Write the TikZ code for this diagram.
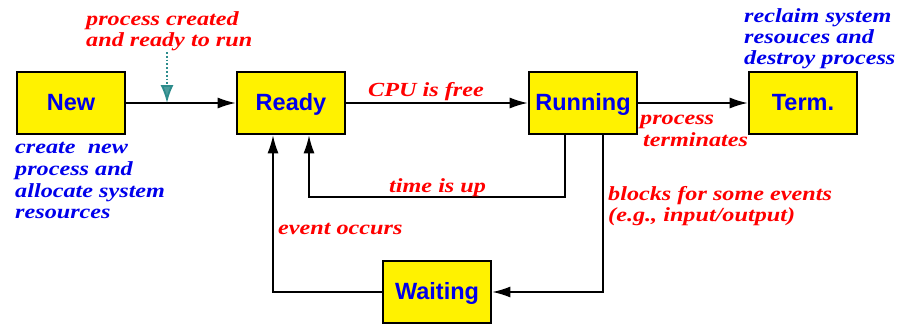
\documentclass[tikz,border=0pt]{standalone}
\usepackage{fontspec}
\setmainfont{Liberation Serif}
\setsansfont{Liberation Sans}
\newfontfamily\labfont[FakeStretch=1.21]{Liberation Serif}
\usetikzlibrary{arrows.meta}
\definecolor{tblue}{RGB}{0,0,235}
\definecolor{tred}{RGB}{255,0,0}
\definecolor{tteal}{RGB}{45,140,140}
\begin{document}
\begin{tikzpicture}[x=1pt,y=-1pt,
  state/.style={draw=black,line width=2.6pt,fill=yellow,minimum width=108pt,minimum height=62pt,inner sep=0pt,
    font=\sffamily\bfseries\fontsize{23.5}{23.5}\selectfont,text=tblue,text height=14pt,text depth=0pt},
  rlab/.style={font=\labfont\bfseries\itshape\fontsize{20}{21}\selectfont,text=tred,inner sep=0pt,anchor=base west},
  blab/.style={font=\labfont\bfseries\itshape\fontsize{20}{21}\selectfont,text=tblue,inner sep=0pt,anchor=base west},
  conn/.style={line width=1.6pt,-{Latex[length=18pt,width=11pt]}}
]
\useasboundingbox (0,0) rectangle (898,324);

% states
\node[state] (new)  at (71,103)  {New};
\node[state] (ready) at (291,103) {Ready};
\node[state] (run)  at (583,103) {Running};
\node[state] (term) at (803,103) {Term.};
\node[state] (wait) at (437,292) {Waiting};

% corner coordinates
\coordinate (tq) at (167,52);
\coordinate (tp) at (167,103);
\coordinate (rb1) at (565,197);
\coordinate (rb0) at (309,197);
\coordinate (wb1) at (603,0);
\coordinate (wl0) at (273,0);

% connectors
\draw[conn] (new) -- (ready);
\draw[conn] (ready) -- (run);
\draw[conn] (run) -- (term);
\draw[line width=1.8pt,dotted,tteal,-{Latex[length=18pt,width=13pt,open,fill=tteal!85]}] (tq) -- (tp);
\draw[conn] (run.south -| rb1) -- (rb1) -- (rb0) -- (rb0 |- ready.south);
\draw[conn] (run.south -| wb1) -- (wb1 |- wait.east) -- (wait.east);
\draw[conn] (wait.west) -- (wait.west -| wl0) -- (wl0 |- ready.south);

% red labels
\node[rlab] (l1) at (86,25) {process created};
\node[rlab] (l2) at (86,46) {and ready to run};
\node[rlab] (l3) at (368,96) {CPU is free};
\node[rlab] (l4) at (389,192) {time is up};
\node[rlab] (l5) at (278,234) {event occurs};
\node[rlab] (l6) at (640,124) {process};
\node[rlab] (l7) at (643,146) {terminates};
\node[rlab] (l8) at (608,200) {blocks for some events};
\node[rlab] (l9) at (608,221) {(e.g., input/output)};

% blue labels
\node[blab] (b1) at (15,153) {create\ \ new};
\node[blab] (b2) at (15,175) {process and};
\node[blab] (b3) at (15,197) {allocate system};
\node[blab] (b4) at (15,218) {resources};
\node[blab] (b5) at (744,22) {reclaim system};
\node[blab] (b6) at (744,43) {resouces and};
\node[blab] (b7) at (744,64) {destroy process};
\end{tikzpicture}
\end{document}
